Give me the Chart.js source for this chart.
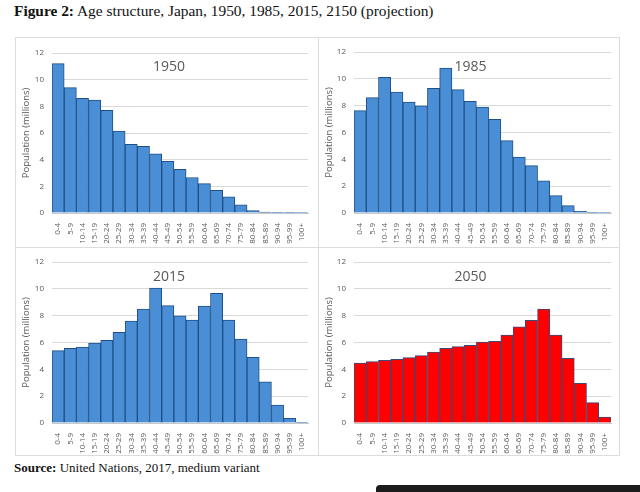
<!DOCTYPE html>
<html>
<head>
<meta charset="utf-8">
<script src="https://cdn.jsdelivr.net/npm/chart.js@4.4.1/dist/chart.umd.min.js"></script>
<style>
  body { margin: 0; background: #fff; }
  #page { position: relative; width: 640px; height: 492px; overflow: hidden; background: #fff; }
  .cap { position: absolute; left: 14px; font-family: "Liberation Serif", "DejaVu Serif", serif; color: #111; white-space: nowrap; }
  #frame { position: absolute; left: 15px; top: 37px; width: 603px; height: 417px; border: 1px solid #dcdcdc; }
  .panel { position: absolute; }
  .vline { position: absolute; left: 318px; top: 37px; width: 1px; height: 418px; background: #dcdcdc; }
  .hline { position: absolute; left: 15px; top: 247px; width: 604px; height: 1px; background: #dcdcdc; }
  #blackbar { position: absolute; left: 376px; top: 485px; width: 270px; height: 12px; background: #1c1c1c; border-radius: 4px 0 0 0; }
</style>
</head>
<body>
<div id="page">
  <div class="cap" style="top:2px; font-size:15.4px;"><b>Figure 2:</b> Age structure, Japan, 1950, 1985, 2015, 2150 (projection)</div>
  <div id="frame"></div>
  <div class="vline"></div>
  <div class="hline"></div>
  <div class="panel" style="left:16px; top:38px; width:302px; height:209px;"><canvas id="c1950"></canvas></div>
  <div class="panel" style="left:319px; top:38px; width:299px; height:209px;"><canvas id="c1985"></canvas></div>
  <div class="panel" style="left:16px; top:248px; width:302px; height:206px;"><canvas id="c2015"></canvas></div>
  <div class="panel" style="left:319px; top:248px; width:299px; height:206px;"><canvas id="c2050"></canvas></div>
  <div class="cap" style="top:460px; font-size:13px;"><b>Source:</b> United Nations, 2017, medium variant</div>
  <div id="blackbar"></div>
</div>
<script>
var ageGroups = ["0-4","5-9","10-14","15-19","20-24","25-29","30-34","35-39","40-44","45-49",
                 "50-54","55-59","60-64","65-69","70-74","75-79","80-84","85-89","90-94","95-99","100+"];
var pop1950 = [11.2, 9.4, 8.6, 8.46, 7.7, 6.15, 5.15, 5.0, 4.43, 3.88, 3.28, 2.66, 2.2, 1.7, 1.22, 0.62, 0.18, 0.06, 0.02, 0.01, 0.005];
var pop1985 = [7.63, 8.6, 10.11, 9.02, 8.27, 7.98, 9.29, 10.81, 9.19, 8.32, 7.9, 6.98, 5.39, 4.17, 3.53, 2.39, 1.29, 0.55, 0.12, 0.02, 0.005];
var pop2015 = [5.39, 5.57, 5.66, 5.96, 6.16, 6.76, 7.6, 8.5, 10.06, 8.75, 7.98, 7.68, 8.72, 9.66, 7.68, 6.26, 4.89, 3.06, 1.34, 0.35, 0.05];
var pop2050 = [4.47, 4.57, 4.67, 4.75, 4.87, 5.02, 5.29, 5.57, 5.69, 5.79, 6.04, 6.09, 6.56, 7.16, 7.65, 8.5, 6.56, 4.82, 2.96, 1.52, 0.45];

var tickFont = { family: "'Open Sans', 'DejaVu Sans', sans-serif", size: 8 };

// draws the year inside the plot, like the Excel chart title
var innerTitle = {
  id: "innerTitle",
  afterDatasetsDraw: function (chart, args, opts) {
    var ctx = chart.ctx;
    ctx.save();
    ctx.font = "14px 'Open Sans', 'DejaVu Sans', sans-serif";
    ctx.fillStyle = "#595959";
    ctx.textAlign = "center";
    ctx.textBaseline = "middle";
    ctx.fillText(opts.text, chart.width / 2 + opts.dx, opts.y);
    ctx.restore();
  }
};

function makeChart(id, values, year, fill, edge, yWidth, xHeight, topPad, rightPad) {
  return new Chart(document.getElementById(id), {
    type: "bar",
    data: {
      labels: ageGroups,
      datasets: [{
        data: values,
        backgroundColor: fill,
        borderColor: edge,
        borderWidth: 1,
        barPercentage: 1,
        categoryPercentage: 1
      }]
    },
    options: {
      responsive: true,
      maintainAspectRatio: false,
      animation: false,
      layout: { padding: { top: topPad, right: rightPad, left: 0, bottom: 0 } },
      plugins: {
        legend: { display: false },
        tooltip: { enabled: false },
        innerTitle: { text: year, y: 29, dx: 2 }
      },
      scales: {
        x: {
          grid: { display: false },
          border: { color: "#c8c8c8" },
          ticks: { autoSkip: false, maxRotation: 90, minRotation: 90, padding: 2, color: "#595959", font: tickFont },
          afterFit: function (s) { s.height = xHeight; }
        },
        y: {
          min: 0,
          max: 12,
          grid: { color: "#d9d9d9", drawTicks: false },
          border: { display: false },
          ticks: { stepSize: 2, padding: 8, color: "#595959", font: tickFont },
          title: { display: true, text: "Population (millions)", color: "#595959",
                   font: { family: "'Open Sans', 'DejaVu Sans', sans-serif", size: 9.5 }, padding: { top: 5, bottom: 0 } },
          afterFit: function (s) { s.width = yWidth; }
        }
      }
    },
    plugins: [innerTitle]
  });
}

makeChart("c1950", pop1950, "1950", "#4a8fd6", "#1f4f86", 36, 34, 15, 10);
makeChart("c1985", pop1985, "1985", "#4a8fd6", "#1f4f86", 35, 34, 14, 7);
makeChart("c2015", pop2015, "2015", "#4a8fd6", "#1f4f86", 36, 31, 14, 10);
makeChart("c2050", pop2050, "2050", "#ff0000", "#3a4a78", 35, 31, 14, 7);
</script>
</body>
</html>
